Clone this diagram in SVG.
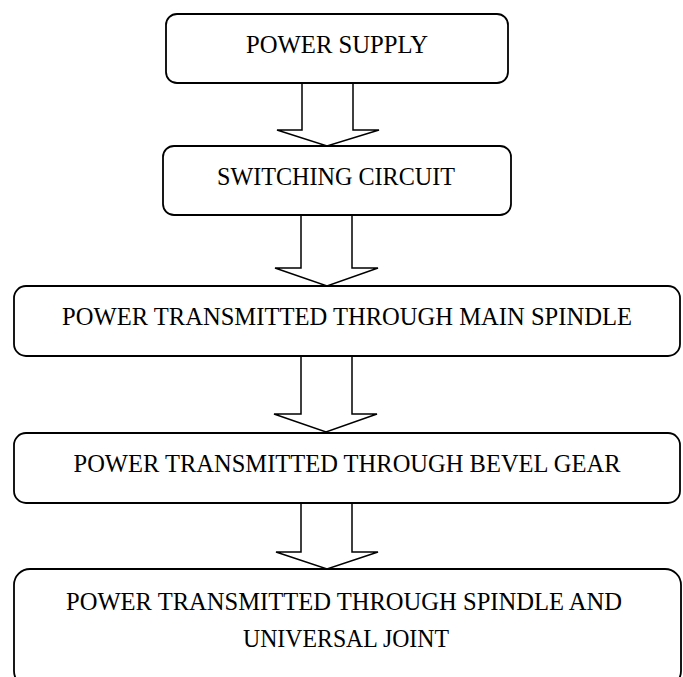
<svg xmlns="http://www.w3.org/2000/svg" width="683" height="677" viewBox="0 0 683 677">
<style>
.box{fill:#fff;stroke:#000;stroke-width:1.8}
.arr{fill:#fff;stroke:#000;stroke-width:1.5;stroke-linejoin:miter}
.t{font-family:"Liberation Serif","Times New Roman",serif;font-size:26px;fill:#000;text-anchor:middle}
</style>
<rect width="683" height="677" fill="#fff"/>
<g id="connectors">
<path class="arr" d="M302,83 V130 H277 L327,146 L379,130 H353 V83"/>
<path class="arr" d="M301,215 V268 H275 L327,286 L378,268 H352 V215"/>
<path class="arr" d="M301,356 V414 H274 L326,432 L377,414 H352 V356"/>
<path class="arr" d="M301,503 V552 H276 L327,569 L378,552 H352 V503"/>
</g>
<g id="n1"><rect class="box" x="166" y="14" width="342" height="69" rx="11"/><text class="t" x="337" y="53" textLength="182" lengthAdjust="spacingAndGlyphs">POWER SUPPLY</text></g>
<g id="n2"><rect class="box" x="163" y="146" width="348" height="69" rx="11"/><text class="t" x="336" y="185" textLength="238" lengthAdjust="spacingAndGlyphs">SWITCHING CIRCUIT</text></g>
<g id="n3"><rect class="box" x="14" y="286" width="666" height="70" rx="12"/><text class="t" x="347" y="325" textLength="570" lengthAdjust="spacingAndGlyphs">POWER TRANSMITTED THROUGH MAIN SPINDLE</text></g>
<g id="n4"><rect class="box" x="14" y="433" width="666" height="70" rx="12"/><text class="t" x="347" y="472" textLength="547" lengthAdjust="spacingAndGlyphs">POWER TRANSMITTED THROUGH BEVEL GEAR</text></g>
<g id="n5"><rect class="box" x="14" y="569" width="667" height="118" rx="16"/><text class="t" x="344" y="610" textLength="556" lengthAdjust="spacingAndGlyphs">POWER TRANSMITTED THROUGH SPINDLE AND</text><text class="t" x="346" y="647" textLength="206" lengthAdjust="spacingAndGlyphs">UNIVERSAL JOINT</text></g>
</svg>
